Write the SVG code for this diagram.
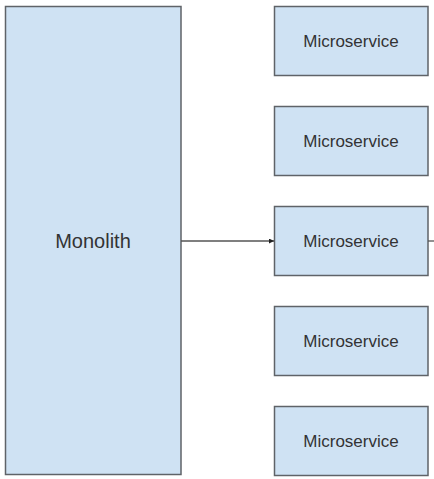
<svg xmlns="http://www.w3.org/2000/svg" width="434" height="479" viewBox="0 0 434 479">
<style>
.box{fill:#cfe2f3;stroke:#5f6368;stroke-width:1.5}
.lbl{font-family:"Liberation Sans",Arial,sans-serif;fill:#333;text-anchor:middle;dominant-baseline:central}
.ms{font-size:17px}
.mono{font-size:20px}
.conn{stroke:#555;stroke-width:1.3;fill:none}
</style>
<defs>
<marker id="ah" viewBox="0 0 10 10" refX="10" refY="5" markerWidth="5" markerHeight="5" orient="auto" markerUnits="userSpaceOnUse">
<path d="M0,0 L10,5 L0,10 z" fill="#222"/>
</marker>
</defs>
<rect x="0" y="0" width="434" height="479" fill="#fff"/>
<g id="monolith">
<rect class="box" x="5.5" y="6.5" width="175.5" height="468"/>
<text class="lbl mono" x="93" y="241">Monolith</text>
</g>
<g id="ms1">
<rect class="box" x="274.5" y="6.5" width="153.5" height="69"/>
<text class="lbl ms" x="351" y="41">Microservice</text>
</g>
<g id="ms2">
<rect class="box" x="274.5" y="106.5" width="153.5" height="69"/>
<text class="lbl ms" x="351" y="141">Microservice</text>
</g>
<g id="ms3">
<rect class="box" x="274.5" y="206.5" width="153.5" height="69"/>
<text class="lbl ms" x="351" y="241">Microservice</text>
</g>
<g id="ms4">
<rect class="box" x="274.5" y="306.5" width="153.5" height="69"/>
<text class="lbl ms" x="351" y="341">Microservice</text>
</g>
<g id="ms5">
<rect class="box" x="274.5" y="406.5" width="153.5" height="69"/>
<text class="lbl ms" x="351" y="441">Microservice</text>
</g>
<g id="connectors">
<line class="conn" x1="181" y1="241" x2="274" y2="241" marker-end="url(#ah)"/>
<line class="conn" x1="428" y1="241" x2="434" y2="241"/>
</g>
</svg>
